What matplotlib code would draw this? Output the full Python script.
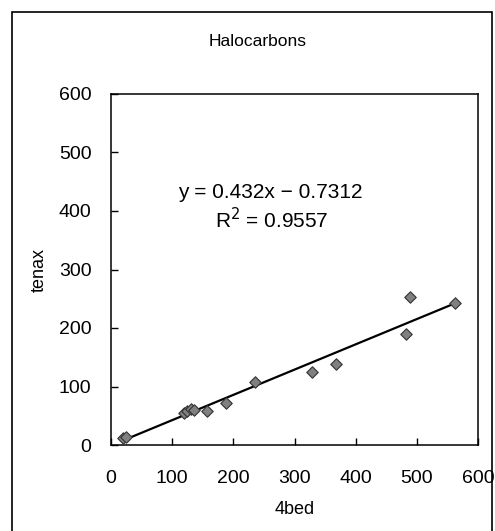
import numpy as np
import matplotlib.pyplot as plt
from matplotlib.patches import Rectangle

plt.rcParams['font.family'] = ['Liberation Sans', 'DejaVu Sans']

# data (4bed vs tenax)
bed4 = [20, 25, 120, 125, 130, 135, 157, 188, 236, 329, 368, 483, 489, 562]
tenax = [12, 14, 55, 58, 62, 60, 58, 72, 107, 124, 138, 190, 253, 242]
slope = 0.432
intercept = -0.7312
r2 = 0.9557
ticks = [0, 100, 200, 300, 400, 500, 600]

W, H = 495, 531
fig = plt.figure(figsize=(W / 100, H / 100), dpi=100)
ax = fig.add_axes([111 / W, 1 - 445 / H, (478 - 111) / W, (445 - 94) / H])

# outer frame (clipped at right/bottom like the scan)
fig.patches.append(Rectangle((12 / W, -0.01), (492 - 12) / W, 1 - 12 / H + 0.01,
                             transform=fig.transFigure, fill=False,
                             edgecolor='black', linewidth=1.2))

xs = np.array([min(bed4), max(bed4)])
ax.plot(xs, slope * xs + intercept, color='black', linewidth=1.6, zorder=2)
ax.scatter(bed4, tenax, marker='D', s=34, color='#808080',
           edgecolor='#333333', linewidth=0.8, zorder=3)

ax.set_xlim(0, 600)
ax.set_ylim(0, 600)
ax.set_xticks(ticks)
ax.set_yticks(ticks)
ax.tick_params(direction='in', length=5, width=1, labelsize=14)
ax.tick_params(axis='x', pad=18)
ax.tick_params(axis='y', pad=14)
for s in ax.spines.values():
    s.set_linewidth(1.1)

ax.set_xlabel('4bed', fontsize=13, labelpad=10)
ax.set_ylabel('tenax', fontsize=13, labelpad=8)

fig.text(258 / W, 1 - 42 / H, 'Halocarbons', ha='center', va='center', fontsize=12.5)
fig.text(270 / W, 1 - 192 / H, 'y = 0.432x − 0.7312', ha='center', va='center', fontsize=15)
fig.text(272 / W, 1 - 220 / H, 'R$^2$ = 0.9557', ha='center', va='center', fontsize=15)

fig.savefig('out.png', dpi=100)
